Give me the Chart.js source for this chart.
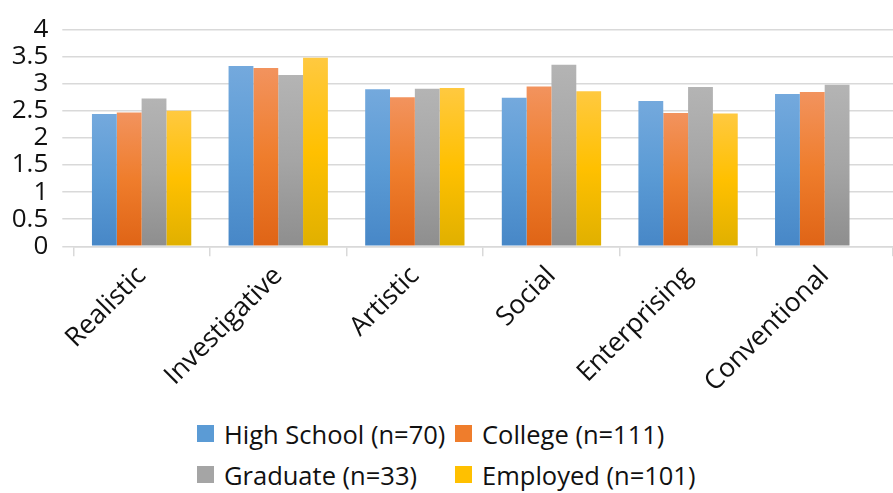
<!DOCTYPE html>
<html>
<head>
<meta charset="utf-8">
<script src="https://cdn.jsdelivr.net/npm/chart.js@4.4.1/dist/chart.umd.min.js"></script>
<style>
  body { margin: 0; background: #fff; }
  #wrap { position: relative; width: 893px; height: 493px; overflow: hidden; }
  #box { position: absolute; left: 0; top: 0; width: 893px; height: 410px; }
  #legend { position: absolute; left: 197px; top: 413px; font-family: "Open Sans", sans-serif; font-size: 25.5px; color: #111; }
  .row { display: flex; height: 41px; align-items: center; }
  .item { display: flex; align-items: center; }
  .item.c1 { width: 258px; }
  .sw { width: 17px; height: 17px; margin-right: 10px; }
</style>
</head>
<body>
<div id="wrap">
  <div id="box"><canvas id="barChart"></canvas></div>
  <div id="legend"></div>
</div>
<script>
// données
const categories = ['Realistic', 'Investigative', 'Artistic', 'Social', 'Enterprising', 'Conventional'];
const seriesNames = ['High School (n=70)', 'College (n=111)', 'Graduate (n=33)', 'Employed (n=101)'];
const highSchool = [2.44, 3.33, 2.90, 2.74, 2.68, 2.81];
const college = [2.47, 3.29, 2.75, 2.95, 2.46, 2.85];
const graduate = [2.73, 3.16, 2.91, 3.35, 2.94, 2.98];
const employed = [2.50, 3.48, 2.92, 2.86, 2.45, null];

// couleurs : haut, milieu, bas (dégradé façon Excel)
const palette = [
    ['#74a9dd', '#5b9bd5', '#4787c7'],
    ['#f2935e', '#ef7d2c', '#df6416'],
    ['#b4b4b4', '#a5a5a5', '#8e8e8e'],
    ['#ffc940', '#ffc000', '#e0b000']
];

function barGradient(i) {
    return function(ctx) {
        const chart = ctx.chart;
        const y = chart.scales.y;
        if (!chart.chartArea || !y || ctx.raw == null) return palette[i][1];
        const top = y.getPixelForValue(ctx.raw);
        const bottom = y.getPixelForValue(0);
        const g = chart.ctx.createLinearGradient(0, top, 0, bottom);
        g.addColorStop(0, palette[i][0]);
        g.addColorStop(0.5, palette[i][1]);
        g.addColorStop(1, palette[i][2]);
        return g;
    };
}

const allSeries = [highSchool, college, graduate, employed];
const datasets = allSeries.map((d, i) => ({
    label: seriesNames[i],
    data: d,
    backgroundColor: barGradient(i),
    borderWidth: 0,
    barPercentage: 1,
    categoryPercentage: 0.727
}));

const gridColor = '#d9d9d9';

const barChart = new Chart(document.getElementById('barChart').getContext('2d'), {
    type: 'bar',
    data: { labels: categories, datasets: datasets },
    options: {
        responsive: true,
        maintainAspectRatio: false,
        animation: false,
        layout: { padding: { top: 17, right: 0, left: 0, bottom: 0 } },
        plugins: {
            legend: { display: false },
            tooltip: { enabled: false }
        },
        scales: {
            x: {
                afterFit: (s) => { s.height = 410 - 246.3; },
                grid: {
                    drawOnChartArea: false,
                    tickLength: 10,
                    color: gridColor,
                    lineWidth: 1.5
                },
                border: { display: true, color: gridColor, width: 1.5 },
                ticks: {
                    minRotation: 45,
                    maxRotation: 45,
                    padding: 4,
                    color: '#111',
                    font: { family: 'Open Sans', size: 26.5 }
                }
            },
            y: {
                min: 0,
                max: 4,
                afterFit: (s) => { s.width = 73.3; },
                grid: {
                    color: gridColor,
                    lineWidth: 1.5,
                    tickLength: 11
                },
                border: { display: false },
                ticks: {
                    stepSize: 0.5,
                    autoSkip: false,
                    padding: 14,
                    color: '#111',
                    font: { family: 'Open Sans', size: 26 },
                    callback: (v) => String(v)
                }
            }
        }
    }
});

// légende en HTML sur deux lignes
const legend = document.getElementById('legend');
[[0, 1], [2, 3]].forEach(pair => {
    const row = document.createElement('div');
    row.className = 'row';
    pair.forEach((idx, k) => {
        const item = document.createElement('div');
        item.className = 'item' + (k === 0 ? ' c1' : '');
        const sw = document.createElement('span');
        sw.className = 'sw';
        sw.style.background = palette[idx][1];
        const txt = document.createElement('span');
        txt.textContent = seriesNames[idx];
        item.appendChild(sw);
        item.appendChild(txt);
        row.appendChild(item);
    });
    legend.appendChild(row);
});
</script>
</body>
</html>
